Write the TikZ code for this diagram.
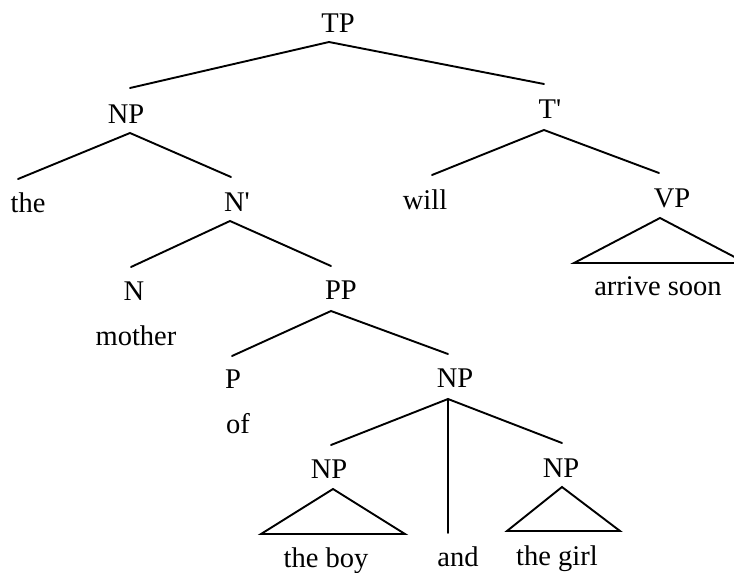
\documentclass[tikz,border=0pt]{standalone}
\usepackage{fontspec}
\setmainfont{Liberation Serif}
\begin{document}
\begin{tikzpicture}[x=1pt,y=-1pt,
  lbl/.style={anchor=base,inner sep=0pt,font=\fontsize{28.5}{32}\selectfont},
  branch/.style={line width=1.9pt,line cap=round},
  tri/.style={line width=1.9pt,line join=miter}]
\useasboundingbox (0,0) rectangle (734,573);
\clip (0,0) rectangle (734,573);
% labels
\node[lbl] (TP) at (338,32) {TP};
\node[lbl] (NP1) at (126,123) {NP};
\node[lbl] (Tbar) at (550,118) {T\textquotesingle};
\node[lbl] (the1) at (28,212) {the};
\node[lbl] (Nbar) at (237,211) {N\textquotesingle};
\node[lbl] (will) at (425,209) {will};
\node[lbl] (VP) at (672,207) {VP};
\node[lbl] (N) at (134,300) {N};
\node[lbl] (PP) at (341,299) {PP};
\node[lbl] (arrive) at (658,295) {arrive soon};
\node[lbl] (mother) at (136,345) {mother};
\node[lbl] (P) at (233,388) {P};
\node[lbl] (NP2) at (455,387) {NP};
\node[lbl] (of) at (238,433) {of};
\node[lbl] (NP3) at (329,478) {NP};
\node[lbl] (NP4) at (561,477) {NP};
\node[lbl] (boy) at (326,567) {the boy};
\node[lbl] (and) at (458,566) {and};
\node[lbl] (girl) at (557,565) {the girl};
% connector ends
\coordinate (TPb) at (329,42);
\coordinate (NP1t) at (130,88);
\coordinate (Tbart) at (544,84);
\coordinate (NP1b) at (130,133);
\coordinate (the1t) at (18,179);
\coordinate (Nbart) at (231,177);
\coordinate (Tbarb) at (544,130);
\coordinate (willt) at (432,175);
\coordinate (VPt) at (659,173);
\coordinate (VPa) at (660,218);
\coordinate (VPl) at (574,263);
\coordinate (VPr) at (746,263);
\coordinate (Nbarb) at (230,221);
\coordinate (Nt) at (131,267);
\coordinate (PPt) at (331,266);
\coordinate (PPb) at (331,311);
\coordinate (Pt) at (232,356);
\coordinate (NP2t) at (448,354);
\coordinate (NP2b) at (448,399);
\coordinate (NP3t) at (331,445);
\coordinate (NP4t) at (562,443);
\coordinate (andt) at (448,533);
\coordinate (NP3a) at (333,489);
\coordinate (NP3l) at (261,534);
\coordinate (NP3r) at (405,534);
\coordinate (NP4a) at (562,487);
\coordinate (NP4l) at (507,531);
\coordinate (NP4r) at (620,531);
% branches
\draw[branch] (NP1t) -- (TPb) -- (Tbart);
\draw[branch] (the1t) -- (NP1b) -- (Nbart);
\draw[branch] (willt) -- (Tbarb) -- (VPt);
\draw[branch] (Nt) -- (Nbarb) -- (PPt);
\draw[branch] (Pt) -- (PPb) -- (NP2t);
\draw[branch] (NP3t) -- (NP2b) -- (NP4t);
\draw[branch] (NP2b) -- (andt);
% triangles
\draw[tri] (VPa) -- (VPl) -- (VPr) -- cycle;
\draw[tri] (NP3a) -- (NP3l) -- (NP3r) -- cycle;
\draw[tri] (NP4a) -- (NP4l) -- (NP4r) -- cycle;
\end{tikzpicture}
\end{document}
